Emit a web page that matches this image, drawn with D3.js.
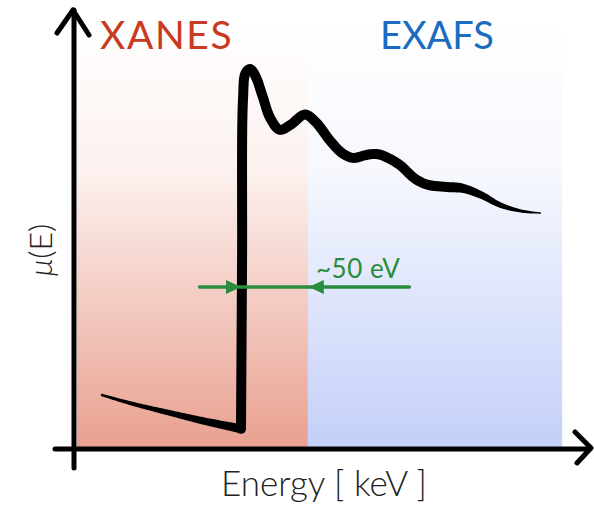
<!DOCTYPE html>
<html>
<head>
<meta charset="utf-8">
<style>
  body { margin: 0; background: #fff; }
  svg { display: block; }
  text { font-family: Lato, "Open Sans", sans-serif; }
</style>
</head>
<body>
<script src="https://cdn.jsdelivr.net/npm/d3@7"></script>
<svg id="chart" width="594" height="506"></svg>
<script>
// regions (energy relative to the edge, eV)
const regionNames = ["XANES", "EXAFS"];
const regionBounds = [-125, 50, 240];
const regionColors = ["#e9a090", "#c3cff8"];
const regionTextColors = ["#c83a22", "#1b6cc0"];

// pre-edge part of mu(E)
const preEdgeE  = [-104, -84, -63, -44, -25, -12, 0];
const preEdgeMu = [0.142, 0.121, 0.103, 0.087, 0.071, 0.062, 0.053];

// edge jump + EXAFS oscillations
const edgeE  = [0, 0.8, 1.5, 3.5, 7, 11, 16, 22, 29, 37, 48, 56, 67, 76, 84, 94, 102, 110, 119, 130, 139, 152, 166, 180, 194, 210, 224];
const edgeMu = [0.053, 0.5, 0.92, 0.99, 1.0, 0.98, 0.93, 0.87, 0.84, 0.853, 0.88, 0.86, 0.81, 0.778, 0.766, 0.774, 0.776, 0.766, 0.747, 0.712, 0.696, 0.69, 0.686, 0.668, 0.642, 0.626, 0.621];

// the ~50 eV marker
const markerE = [-31, 0, 50, 126];
const markerMu = 0.426;
const markerLabel = "~50 eV";

const svg = d3.select("#chart");
const xs = d3.scaleLinear().domain([-125, 250]).range([74, 575]);
const ys = d3.scaleLinear().domain([0, 1]).range([449, 69]);

// gradients for the two regions
const defs = svg.append("defs");
regionColors.forEach((c, i) => {
  const g = defs.append("linearGradient").attr("id", "grad" + i)
    .attr("x1", 0).attr("y1", 0).attr("x2", 0).attr("y2", 1);
  g.append("stop").attr("offset", "0%").attr("stop-color", "#fff");
  g.append("stop").attr("offset", "35%").attr("stop-color", d3.interpolateRgb("#fff", c)(0.15));
  g.append("stop").attr("offset", "100%").attr("stop-color", c);
});

svg.selectAll("rect.region").data(regionNames).enter()
  .append("rect").attr("class", "region")
  .attr("x", (d, i) => xs(regionBounds[i]) + (i == 0 ? 3 : 0))
  .attr("width", (d, i) => xs(regionBounds[i + 1]) - xs(regionBounds[i]) - (i == 0 ? 3 : 0) + 0.5)
  .attr("y", ys(1.12))
  .attr("height", ys(0) - ys(1.12))
  .attr("fill", (d, i) => "url(#grad" + i + ")");

svg.selectAll("text.region").data(regionNames).enter()
  .append("text").attr("class", "region")
  .attr("x", (d, i) => i == 0 ? 100 : 380)
  .attr("y", 49)
  .attr("font-size", (d, i) => i == 0 ? 39 : 38)
  .attr("letter-spacing", (d, i) => i == 0 ? 1.6 : 0)
  .attr("fill", (d, i) => regionTextColors[i])
  .text(d => d);

// axes (hand-drawn look)
const axisG = svg.append("g").attr("stroke", "#000").attr("fill", "none")
  .attr("stroke-linecap", "round").attr("stroke-linejoin", "round");
axisG.append("line").attr("x1", xs.range()[0]).attr("x2", xs.range()[0])
  .attr("y1", 10).attr("y2", 468).attr("stroke-width", 5);
axisG.append("line").attr("x1", 55).attr("x2", 588)
  .attr("y1", ys(0)).attr("y2", ys(0)).attr("stroke-width", 5);
axisG.append("path").attr("d", "M57,33 L73,10 L89,35").attr("stroke-width", 5);
axisG.append("path").attr("d", "M575,432 L591,448 L577,463").attr("stroke-width", 5);

// tapered ribbon along a curve
function ribbon(E, M, curve, widthAt) {
  const gen = d3.line().x((d, i) => xs(E[i])).y((d, i) => ys(M[i])).curve(curve);
  const tmp = svg.append("path").attr("d", gen(E)).attr("fill", "none");
  const node = tmp.node();
  const L = node.getTotalLength();
  const n = Math.ceil(L / 1.5);
  const pts = d3.range(n + 1).map(i => node.getPointAtLength(i / n * L));
  tmp.remove();
  const left = [], right = [];
  pts.forEach((p, i) => {
    const a = pts[Math.max(0, i - 3)], b = pts[Math.min(n, i + 3)];
    let dx = b.x - a.x, dy = b.y - a.y;
    const len = Math.hypot(dx, dy) || 1;
    const nx = -dy / len, ny = dx / len;
    const w = widthAt(i / n, p) / 2;
    left.push([(p.x + nx * w).toFixed(2), (p.y + ny * w).toFixed(2)]);
    right.push([(p.x - nx * w).toFixed(2), (p.y - ny * w).toFixed(2)]);
  });
  const poly = left.concat(right.reverse());
  svg.append("path").attr("d", "M" + poly.join("L") + "Z").attr("fill", "#000");
  [[pts[0], widthAt(0, pts[0])], [pts[n], widthAt(1, pts[n])]].forEach(([p, w]) => {
    svg.append("circle").attr("cx", p.x).attr("cy", p.y).attr("r", w / 2).attr("fill", "#000");
  });
}

ribbon(preEdgeE, preEdgeMu, d3.curveBasis, t => 2.5 + 6.5 * t);
ribbon(edgeE, edgeMu, d3.curveCatmullRom.alpha(0.5), (t, p) => {
  if (p.x < 455) return 10;
  return Math.max(1.3, 10 - 8.7 * (p.x - 455) / 85);
});

// ~50 eV marker
const green = "#2a8c3e";
const gm = svg.append("g");
gm.append("line").attr("x1", xs(markerE[0])).attr("x2", xs(markerE[3]))
  .attr("y1", ys(markerMu)).attr("y2", ys(markerMu))
  .attr("stroke", green).attr("stroke-width", 3.5).attr("stroke-linecap", "round");
const yM = ys(markerMu);
gm.append("path")
  .attr("d", `M${xs(markerE[1])},${yM} L${xs(markerE[1]) - 15},${yM - 7} L${xs(markerE[1]) - 15},${yM + 7}Z`)
  .attr("fill", green);
gm.append("path")
  .attr("d", `M${xs(markerE[2]) + 1},${yM} L${xs(markerE[2]) + 16},${yM - 7} L${xs(markerE[2]) + 16},${yM + 7}Z`)
  .attr("fill", green);
gm.append("text").attr("x", 316).attr("y", yM - 9)
  .attr("font-size", 26).attr("letter-spacing", 0.5).attr("fill", green).text(markerLabel);

// axis labels
svg.append("text").attr("x", 324).attr("y", 496).attr("text-anchor", "middle")
  .attr("font-size", 35).attr("font-weight", 300).attr("fill", "#222")
  .text("Energy [ keV ]");
svg.append("text").attr("transform", "translate(52,250) rotate(-90)")
  .attr("text-anchor", "middle").attr("font-size", 32).attr("font-weight", 300)
  .attr("fill", "#222")
  .html('<tspan font-style="italic">μ</tspan>(E)');
</script>
</body>
</html>
